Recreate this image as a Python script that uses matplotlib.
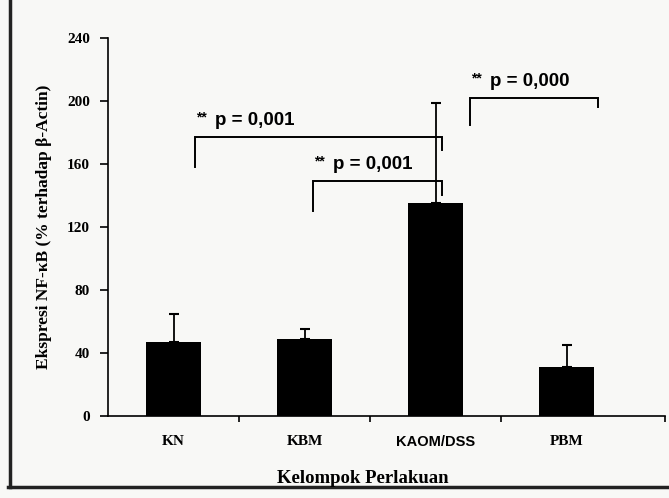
import matplotlib.pyplot as plt
from matplotlib.lines import Line2D

groups = ["KN", "KBM", "KAOM/DSS", "PBM"]
means = [47, 49, 135, 31]
sd_upper = [18, 6, 64, 14]

# significance brackets: (left x, right x, top y, left leg y, right leg y, label)
brackets = [
    (0.16, 2.05, 177, 158, 169, "p = 0,001"),
    (1.06, 2.05, 149, 130, 140, "p = 0,001"),
    (2.26, 3.24, 202, 185, 196, "p = 0,000"),
]

serif = "Liberation Serif"
sans = "Liberation Sans"

fig = plt.figure(figsize=(6.69, 4.98), dpi=100, facecolor="#f8f8f6")
ax = fig.add_axes([0.1614, 0.1647, 0.833, 0.759])
ax.set_facecolor("none")

x = list(range(len(groups)))
ax.bar(x, means, width=0.42, color="black", zorder=2)
ax.errorbar(x, means, yerr=[[0] * 4, sd_upper], fmt="none", ecolor="black",
            elinewidth=1.3, capsize=3.5, capthick=1.5, zorder=1)

for x0, x1, top, yl, yr, label in brackets:
    ax.plot([x0, x0, x1, x1], [yl, top, top, yr], color="black", lw=1.4,
            solid_joinstyle="miter")
    ax.text(x0 + 0.01, top + 8, "**", fontsize=10, fontweight="bold",
            family=sans, va="bottom", ha="left")
    ax.text(x0 + 0.155, top + 5, label, fontsize=13.5, fontweight="bold",
            family=sans, va="bottom", ha="left")

ax.set_xlim(-0.5, 3.75)
ax.set_ylim(0, 240)
ax.set_yticks(range(0, 241, 40))
ax.set_yticklabels([str(v) for v in range(0, 241, 40)], family=serif,
                   fontweight="bold", fontsize=11)
ax.set_xticks([0.5, 1.5, 2.5, 3.75])
ax.set_xticklabels([])
ax.tick_params(axis="y", direction="out", length=6, width=1.2, pad=7)
ax.tick_params(axis="x", direction="out", length=4, width=1.2)

for i, g in enumerate(groups):
    fam = sans if "/" in g else serif
    ax.text(i, -12, g, ha="center", va="top", fontsize=11 if fam == serif else 10.5,
            fontweight="bold", family=fam, transform=ax.transData)

for s in ["top", "right"]:
    ax.spines[s].set_visible(False)
for s in ["left", "bottom"]:
    ax.spines[s].set_linewidth(1.2)

ax.set_ylabel("Ekspresi NF-κB (% terhadap β-Actin)", family=serif,
              fontweight="bold", fontsize=12.5, labelpad=11)
fig.text(0.543, 0.04, "Kelompok Perlakuan", ha="center", va="center",
         family=serif, fontweight="bold", fontsize=13.5)

# scanned page edges
fig.add_artist(Line2D([0.015, 0.015], [0.022, 1.0], color="#222222", lw=2.5,
                      transform=fig.transFigure))
fig.add_artist(Line2D([0.012, 1.0], [0.022, 0.022], color="#222222", lw=2.5,
                      transform=fig.transFigure))

fig.savefig("out.png", dpi=100, facecolor=fig.get_facecolor())
